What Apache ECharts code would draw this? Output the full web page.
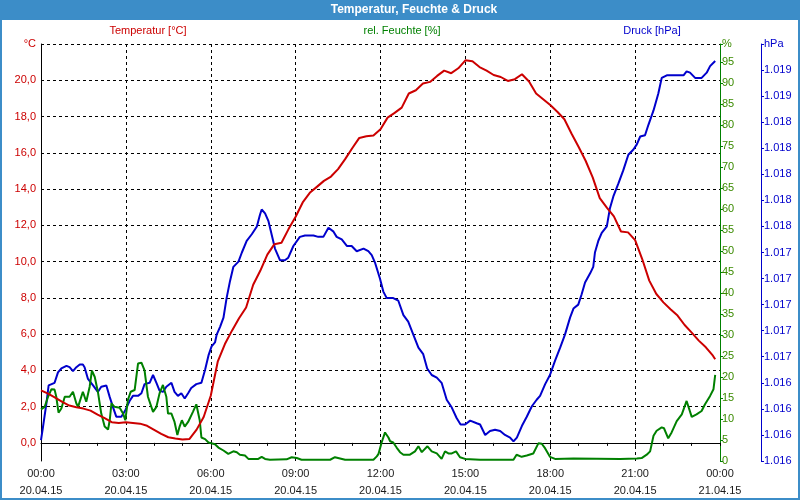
<!DOCTYPE html>
<html>
<head>
<meta charset="utf-8">
<script src="https://cdn.jsdelivr.net/npm/echarts@6/dist/echarts.min.js"></script>
<style>html,body{margin:0;padding:0;background:#fff}#c{width:800px;height:500px}</style>
</head>
<body>
<div id="c"></div>
<script>
var titleText = 'Temperatur, Feuchte & Druck';
var seriesNames = ['Temperatur [°C]', 'rel. Feuchte [%]', 'Druck [hPa]'];
var xTickHours = [0, 3, 6, 9, 12, 15, 18, 21, 24];
var xTickLabels = ['00:00\n20.04.15', '03:00\n20.04.15', '06:00\n20.04.15', '09:00\n20.04.15', '12:00\n20.04.15',
  '15:00\n20.04.15', '18:00\n20.04.15', '21:00\n20.04.15', '00:00\n21.04.15'];
var tempTicks = [0, 2, 4, 6, 8, 10, 12, 14, 16, 18, 20, 22];

var tempHours = [0,0.25,0.5,0.75,1,1.25,1.5,1.75,2,2.25,2.5,2.75,3,3.25,3.5,3.75,4,4.25,4.5,4.75,5,5.25,5.5,5.75,
  6,6.25,6.5,6.75,7,7.25,7.5,7.75,8,8.25,8.5,8.75,9,9.25,9.5,9.75,10,10.25,10.5,10.75,11,11.25,11.5,11.75,
  12,12.25,12.5,12.75,13,13.25,13.5,13.75,14,14.25,14.5,14.75,15,15.25,15.5,15.75,16,16.25,16.5,16.75,17,17.25,17.5,17.75,
  18,18.25,18.5,18.75,19,19.25,19.5,19.75,20,20.25,20.5,20.75,21,21.25,21.5,21.75,22,22.25,22.5,22.75,23,23.25,23.5,23.75,23.83];
var tempValues = [2.90,2.72,2.50,2.26,2.06,1.96,1.89,1.78,1.56,1.36,1.14,1.10,1.14,1.10,1.06,0.94,0.72,0.50,0.31,0.24,0.18,0.22,0.73,1.43,
  2.6,4.5,5.45,6.19,6.87,7.47,8.72,9.49,10.38,10.96,11.04,11.79,12.47,13.26,13.79,14.12,14.45,14.69,15.10,15.65,16.25,16.82,16.91,16.95,
  17.3,17.94,18.20,18.49,19.27,19.45,19.82,19.91,20.24,20.53,20.39,20.66,21.10,21.05,20.73,20.53,20.29,20.18,19.96,20.06,20.33,19.93,19.27,18.95,
  18.63,18.26,17.85,17.06,16.33,15.56,14.64,13.50,12.98,12.49,11.66,11.61,11.18,10.14,8.95,8.21,7.75,7.37,7.02,6.50,6.08,5.64,5.27,4.81,4.61];

var humHours = [0,0.13,0.25,0.37,0.48,0.54,0.62,0.72,0.84,1.01,1.13,1.25,1.31,1.48,1.60,1.72,1.80,1.90,2.01,2.13,2.25,2.37,2.43,2.49,
  2.60,2.78,2.90,2.98,3.07,3.17,3.31,3.43,3.55,3.66,3.78,3.96,4.08,4.19,4.31,4.43,4.49,4.61,4.72,4.82,4.90,4.98,5.08,5.20,5.37,5.49,
  5.61,5.67,5.80,5.92,6.15,6.27,6.45,6.62,6.80,6.92,7.03,7.21,7.33,7.68,7.80,7.92,8.09,8.68,8.86,9.04,9.21,10.22,10.39,10.57,10.75,
  11.75,11.87,11.93,12.04,12.16,12.28,12.34,12.45,12.57,12.69,12.81,13.04,13.22,13.34,13.46,13.52,13.66,13.81,13.99,14.16,14.28,14.40,
  14.52,14.67,14.81,14.99,15.52,16.70,16.81,16.99,17.17,17.40,17.58,17.70,17.82,17.99,18.17,18.82,20.47,21.06,21.23,21.41,21.53,21.65,
  21.76,21.94,22.02,22.17,22.29,22.47,22.65,22.82,23.00,23.17,23.35,23.47,23.65,23.77,23.83];
var humValues = [12.3,12.9,15.3,17.1,17.0,15.3,11.5,12.5,15.3,15.3,16.5,13.7,12.9,16.5,14.1,17.7,21.5,20.0,16.5,11.3,8.2,7.5,9.7,13.7,
  12.9,12.7,11.3,9.7,14.5,16.5,16.9,23.2,23.4,21.6,15.3,11.7,12.9,16.1,18.1,15.3,11.3,11.3,9.3,6.2,8.2,9.7,8.2,9.3,11.7,13.5,
  9.7,5.6,5.2,4.4,4.0,3.2,2.5,1.7,2.3,2.1,1.5,1.3,0.5,0.5,1.0,0.5,0.3,0.4,0.9,0.7,0.3,0.3,0.9,0.6,0.3,
  0.3,1.1,1.7,4.4,6.8,5.6,4.7,4.4,3.2,2.1,1.5,1.5,2.3,3.5,2.1,1.7,3.5,2.3,1.8,0.5,2.3,1.8,
  1.8,2.3,0.9,0.5,0.3,0.3,1.5,1.0,1.3,1.8,4.2,4.1,3.0,1.0,0.5,0.6,0.5,0.6,0.7,1.5,2.3,6.0,
  7.2,8.0,7.8,5.4,6.8,9.5,11.1,14.3,10.5,11.1,11.9,13.5,15.5,17.1,20.5];

var presHours = [0,0.07,0.19,0.27,0.48,0.60,0.72,0.90,1.01,1.13,1.25,1.37,1.48,1.54,1.66,1.84,2.01,2.13,2.31,2.43,2.55,2.66,2.84,2.98,
  3.13,3.25,3.43,3.55,3.66,3.84,3.96,4.08,4.19,4.31,4.43,4.61,4.72,4.84,4.96,5.08,5.20,5.31,5.49,5.67,5.80,5.92,6.03,6.15,6.21,6.33,
  6.45,6.56,6.68,6.80,6.98,7.10,7.27,7.45,7.63,7.74,7.80,7.92,8.04,8.15,8.27,8.45,8.62,8.74,8.92,9.15,9.33,9.63,9.80,9.98,10.16,10.34,
  10.45,10.63,10.81,10.98,11.16,11.40,11.57,11.69,11.81,11.98,12.10,12.22,12.45,12.63,12.81,12.98,13.16,13.34,13.51,13.65,13.81,13.99,
  14.16,14.34,14.52,14.69,14.83,14.99,15.17,15.40,15.52,15.70,15.87,16.05,16.23,16.40,16.58,16.70,16.82,17.00,17.17,17.35,17.52,17.64,
  17.82,17.99,18.17,18.35,18.52,18.70,18.82,18.99,19.11,19.23,19.41,19.52,19.58,19.70,19.82,20.00,20.11,20.23,20.41,20.58,20.76,20.94,
  21.06,21.18,21.35,21.47,21.65,21.82,21.94,22.00,22.12,22.71,22.82,22.94,23.12,23.35,23.53,23.65,23.83];
var presValues = [1015.96,1016.06,1016.24,1016.38,1016.40,1016.48,1016.51,1016.53,1016.52,1016.49,1016.52,1016.54,1016.54,1016.52,1016.43,1016.38,1016.33,1016.37,1016.38,1016.29,1016.21,1016.14,1016.14,1016.19,
  1016.26,1016.30,1016.30,1016.32,1016.39,1016.40,1016.46,1016.40,1016.34,1016.33,1016.37,1016.40,1016.33,1016.30,1016.32,1016.28,1016.32,1016.36,1016.39,1016.40,1016.50,1016.61,1016.68,1016.71,1016.77,1016.83,
  1016.90,1017.05,1017.18,1017.29,1017.33,1017.40,1017.49,1017.54,1017.60,1017.69,1017.73,1017.70,1017.64,1017.54,1017.43,1017.34,1017.34,1017.36,1017.45,1017.52,1017.53,1017.53,1017.52,1017.52,1017.59,1017.56,
  1017.52,1017.50,1017.45,1017.45,1017.41,1017.43,1017.41,1017.38,1017.32,1017.20,1017.10,1017.05,1017.05,1017.03,1016.92,1016.87,1016.77,1016.67,1016.62,1016.51,1016.46,1016.44,
  1016.40,1016.27,1016.21,1016.13,1016.08,1016.08,1016.11,1016.09,1016.08,1016.00,1016.03,1016.04,1016.03,1016.00,1015.98,1015.95,1015.98,1016.07,1016.14,1016.22,1016.27,1016.30,
  1016.39,1016.46,1016.57,1016.67,1016.77,1016.90,1016.97,1017.00,1017.08,1017.17,1017.24,1017.29,1017.40,1017.49,1017.55,1017.60,1017.74,1017.83,1017.93,1018.03,1018.15,1018.19,
  1018.23,1018.29,1018.30,1018.38,1018.49,1018.62,1018.74,1018.75,1018.76,1018.76,1018.79,1018.78,1018.74,1018.74,1018.78,1018.83,1018.87];

function pairs(xs, ys) { return xs.map(function (x, i) { return [x, ys[i]]; }); }

var RED = '#cc0000', GREEN = '#008000', BLUE = '#0000cc', FRAME = '#3c8dc8';
var FONT = 'Liberation Sans';
var dashed = { show: true, lineStyle: { color: '#000', type: [3, 3], width: 1 } };

var chart = echarts.init(document.getElementById('c'), null, { renderer: 'canvas' });
chart.setOption({
  animation: false,
  backgroundColor: '#fff',
  textStyle: { fontFamily: FONT },
  grid: { left: 41, right: 80, top: 44, bottom: 39, containLabel: false, outerBoundsMode: 'none' },
  graphic: [
    { type: 'rect', shape: { x: 0, y: 0, width: 800, height: 20 }, style: { fill: FRAME }, z: 0 },
    { type: 'rect', shape: { x: 1, y: 1, width: 798, height: 498 }, style: { fill: null, stroke: FRAME, lineWidth: 2 }, z: 0 },
    { type: 'text', x: 414, y: 10, style: { text: titleText, fill: '#fff', font: 'bold 12px ' + FONT, textAlign: 'center', textVerticalAlign: 'middle' } },
    { type: 'text', x: 148, y: 31, style: { text: seriesNames[0], fill: RED, font: '11px ' + FONT, textAlign: 'center', textVerticalAlign: 'middle' } },
    { type: 'text', x: 402, y: 31, style: { text: seriesNames[1], fill: GREEN, font: '11px ' + FONT, textAlign: 'center', textVerticalAlign: 'middle' } },
    { type: 'text', x: 652, y: 31, style: { text: seriesNames[2], fill: BLUE, font: '11px ' + FONT, textAlign: 'center', textVerticalAlign: 'middle' } }
  ],
  xAxis: {
    type: 'value', min: 0, max: 24, interval: 3,
    axisLine: { show: true, lineStyle: { color: '#000', width: 1 } },
    axisTick: { show: true, length: 3, lineStyle: { color: '#000' } },
    minorTick: { show: true, splitNumber: 3, length: 3, lineStyle: { color: '#000' } },
    splitLine: dashed,
    axisLabel: {
      color: '#1a1a1a', fontSize: 11, fontFamily: FONT, lineHeight: 17, margin: 4,
      formatter: function (v) { var i = xTickHours.indexOf(v); return i >= 0 ? xTickLabels[i] : ''; }
    }
  },
  yAxis: [
    {
      type: 'value', position: 'left', min: -1, max: 22,
      axisLine: { show: true, lineStyle: { color: '#000', width: 1 } },
      axisTick: { show: false, customValues: tempTicks },
      splitLine: dashed,
      axisLabel: {
        customValues: tempTicks, color: RED, fontSize: 11, fontFamily: FONT, margin: 5,
        formatter: function (v) { return v >= 22 ? '°C' : v.toFixed(1).replace('.', ','); }
      }
    },
    {
      type: 'value', position: 'right', min: 0, max: 99.3, interval: 5,
      axisLine: { show: true, lineStyle: { color: GREEN, width: 1 } },
      axisTick: { show: true, length: 3, lineStyle: { color: GREEN } },
      splitLine: { show: false },
      axisLabel: {
        color: '#3a8a00', fontSize: 11, fontFamily: FONT, margin: 2,
        formatter: function (v) { return v > 96 ? '%' : String(Math.round(v)); }
      }
    },
    {
      type: 'value', position: 'right', offset: 41, min: 1015.8, max: 1019.0, interval: 0.2,
      axisLine: { show: true, lineStyle: { color: BLUE, width: 1 } },
      axisTick: { show: true, length: 3, lineStyle: { color: BLUE } },
      splitLine: { show: false },
      axisLabel: {
        color: BLUE, fontSize: 11, fontFamily: FONT, margin: 3,
        formatter: function (v) { return v > 1018.9 ? 'hPa' : (Math.round(v) / 1000).toFixed(3); }
      }
    }
  ],
  series: [
    { name: seriesNames[2], type: 'line', yAxisIndex: 2, showSymbol: false, data: pairs(presHours, presValues), lineStyle: { color: BLUE, width: 2 }, itemStyle: { color: BLUE } },
    { name: seriesNames[1], type: 'line', yAxisIndex: 1, showSymbol: false, data: pairs(humHours, humValues), lineStyle: { color: GREEN, width: 2 }, itemStyle: { color: GREEN } },
    { name: seriesNames[0], type: 'line', yAxisIndex: 0, showSymbol: false, data: pairs(tempHours, tempValues), lineStyle: { color: RED, width: 2 }, itemStyle: { color: RED } }
  ]
});
</script>
</body>
</html>
